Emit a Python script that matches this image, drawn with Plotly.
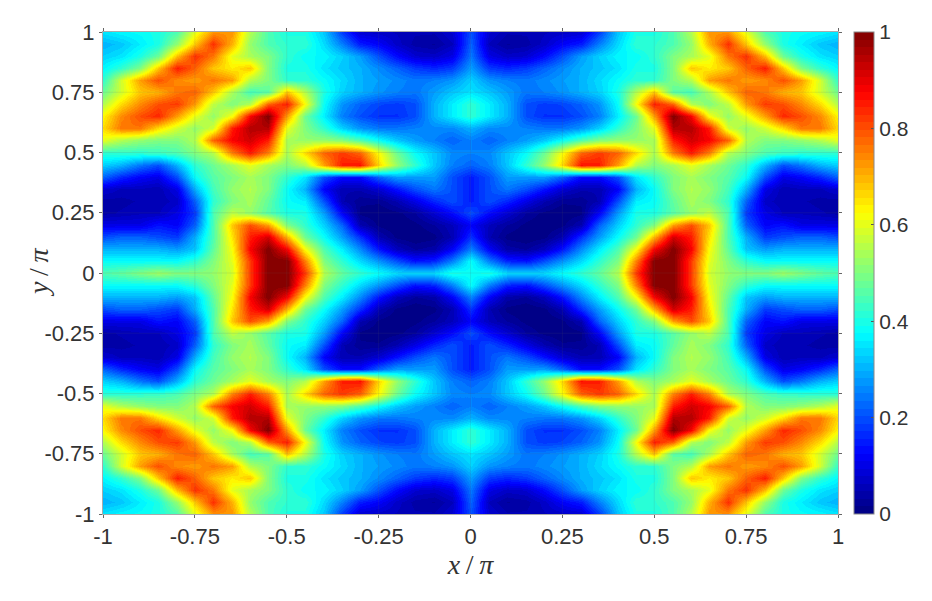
import numpy as np
import plotly.graph_objects as go

# top-left quadrant values; rows y/pi = 1 ... 0, columns x/pi = -1 ... 0
x_half = [-1, -.95, -.9, -.85, -.8, -.75, -.7, -.65, -.6, -.55, -.5, -.45, -.4, -.35, -.3, -.25, -.2, -.15, -.1, -.05, 0]
y_half = [1, .95, .9, .85, .8, .75, .7, .65, .6, .55, .5, .45, .4, .35, .3, .25, .2, .15, .1, .05, 0]
quadrant = [
    [.35,.37,.38,.40,.45,.60,.73,.73,.55,.45,.40,.40,.32,.18,.08,.07,.06,.05,.05,.08,.20],
    [.30,.32,.36,.40,.52,.68,.83,.70,.52,.45,.42,.42,.34,.25,.15,.12,.07,.04,.03,.06,.22],
    [.33,.35,.40,.48,.69,.83,.76,.60,.54,.50,.42,.38,.37,.33,.28,.20,.13,.08,.07,.10,.24],
    [.37,.42,.50,.68,.85,.78,.68,.64,.68,.50,.40,.40,.35,.32,.30,.26,.22,.18,.16,.18,.28],
    [.42,.58,.72,.80,.74,.72,.76,.72,.55,.50,.42,.42,.38,.34,.30,.28,.26,.24,.25,.27,.33],
    [.48,.58,.68,.70,.76,.78,.68,.54,.44,.46,.68,.55,.40,.33,.30,.27,.25,.24,.28,.32,.35],
    [.55,.66,.74,.80,.82,.72,.56,.50,.55,.78,.85,.62,.38,.27,.22,.19,.18,.20,.30,.36,.42],
    [.63,.74,.80,.84,.72,.60,.52,.62,.88,1.0,.72,.48,.36,.25,.20,.17,.17,.20,.30,.36,.42],
    [.66,.76,.76,.66,.58,.52,.58,.85,.95,.95,.60,.50,.42,.33,.27,.24,.24,.25,.26,.26,.30],
    [.60,.55,.52,.50,.50,.55,.78,.88,.92,.85,.54,.52,.52,.50,.45,.38,.32,.28,.25,.22,.25],
    [.42,.42,.42,.43,.45,.50,.55,.75,.85,.75,.54,.66,.78,.82,.78,.62,.48,.38,.32,.26,.25],
    [.33,.30,.24,.20,.30,.42,.48,.54,.60,.54,.50,.55,.72,.85,.86,.66,.52,.42,.32,.25,.22],
    [.22,.16,.12,.10,.20,.38,.46,.50,.54,.50,.42,.35,.20,.13,.13,.22,.28,.28,.28,.20,.15],
    [.08,.06,.06,.05,.10,.30,.44,.52,.55,.50,.38,.30,.12,.05,.05,.08,.14,.20,.24,.20,.15],
    [.04,.04,.05,.05,.07,.22,.42,.50,.54,.47,.38,.36,.20,.05,.02,.02,.05,.10,.16,.20,.15],
    [.04,.05,.06,.06,.10,.18,.45,.56,.52,.46,.40,.40,.28,.12,.01,.00,.01,.03,.08,.13,.20],
    [.10,.10,.10,.14,.12,.22,.45,.68,.80,.72,.50,.42,.33,.22,.05,.01,.00,.01,.03,.06,.12],
    [.20,.22,.22,.20,.18,.30,.45,.65,.85,.92,.70,.48,.38,.28,.17,.05,.01,.00,.01,.05,.17],
    [.30,.30,.30,.30,.28,.32,.47,.62,.88,1.0,.88,.62,.45,.36,.26,.14,.06,.03,.04,.12,.25],
    [.38,.38,.38,.38,.38,.42,.50,.60,.82,1.0,1.0,.75,.50,.42,.34,.27,.20,.14,.16,.25,.38],
    [.45,.47,.50,.53,.50,.50,.52,.58,.82,1.0,1.0,.82,.55,.47,.42,.38,.34,.33,.34,.40,.38],
]
tick_values = [-1, -.75, -.5, -.25, 0, .25, .5, .75, 1]
tick_labels = ["-1", "-0.75", "-0.5", "-0.25", "0", "0.25", "0.5", "0.75", "1"]
bar_values = [0, .2, .4, .6, .8, 1]
bar_labels = ["0", "0.2", "0.4", "0.6", "0.8", "1"]

q = np.array(quadrant)
top = np.hstack([q, q[:, -2::-1]])
z = np.vstack([top, top[-2::-1]])
xs = x_half + [-v for v in x_half[-2::-1]]
ys = y_half + [-v for v in y_half[-2::-1]]

# 64-level MATLAB-style jet
def jet(t):
    c = lambda a: float(np.clip(1.5 - abs(4*t - a), 0, 1))
    return f"rgb({round(255*c(3))},{round(255*c(2))},{round(255*c(1))})"
n = 64
scale = []
for i in range(n):
    col = jet((i + .5) / n)
    scale += [[i / n, col], [(i + 1) / n, col]]

TXT = "#333333"
fig = go.Figure(go.Heatmap(
    x=xs, y=ys, z=z, zmin=0, zmax=1, zsmooth="best", colorscale=scale,
    colorbar=dict(
        x=(854-103)/735, xanchor="left", y=0, yanchor="bottom", len=1, lenmode="fraction",
        thickness=20, thicknessmode="pixels",
        outlinecolor="#888888", outlinewidth=1, tickmode="array", tickvals=bar_values, ticktext=bar_labels,
        ticks="inside", ticklen=3, tickcolor="#555555", tickwidth=1,
        tickfont=dict(family="Liberation Sans", size=21, color=TXT), ypad=0, xpad=0,
    ),
))
for v in tick_values[1:-1]:
    fig.add_shape(type="line", x0=v, x1=v, y0=-1, y1=1, xref="x", yref="y", line=dict(color="rgba(90,90,90,0.13)", width=1))
    fig.add_shape(type="line", x0=-1, x1=1, y0=v, y1=v, xref="x", yref="y", line=dict(color="rgba(90,90,90,0.13)", width=1))
axis = dict(range=[-1, 1], tickmode="array", tickvals=tick_values, ticktext=tick_labels, ticks="outside",
            ticklen=3, tickwidth=1, tickcolor="#666666", showgrid=False, zeroline=False, showline=True,
            linecolor="#aaaaaa", linewidth=1, mirror="allticks",
            tickfont=dict(family="Liberation Sans", size=22, color=TXT))
title_font = dict(family="Liberation Serif", size=28, color=TXT)
fig.update_xaxes(**axis, title=dict(text="<i>x</i>\u2009/\u2009<i>π</i>", font=title_font, standoff=0))
fig.update_yaxes(**axis)
fig.add_annotation(text="<i>y</i>\u2009/\u2009<i>π</i>", font=title_font, textangle=-90, showarrow=False,
                   xref="paper", yref="paper", x=-65/735, y=0.5, xanchor="center", yanchor="middle")
fig.update_layout(width=932, height=601, autosize=False, margin=dict(l=103, r=94, t=32, b=87),
                  paper_bgcolor="white", plot_bgcolor="white")
fig.write_html("out.html", config=dict(displayModeBar=False), post_script="document.body.style.margin='0';")
